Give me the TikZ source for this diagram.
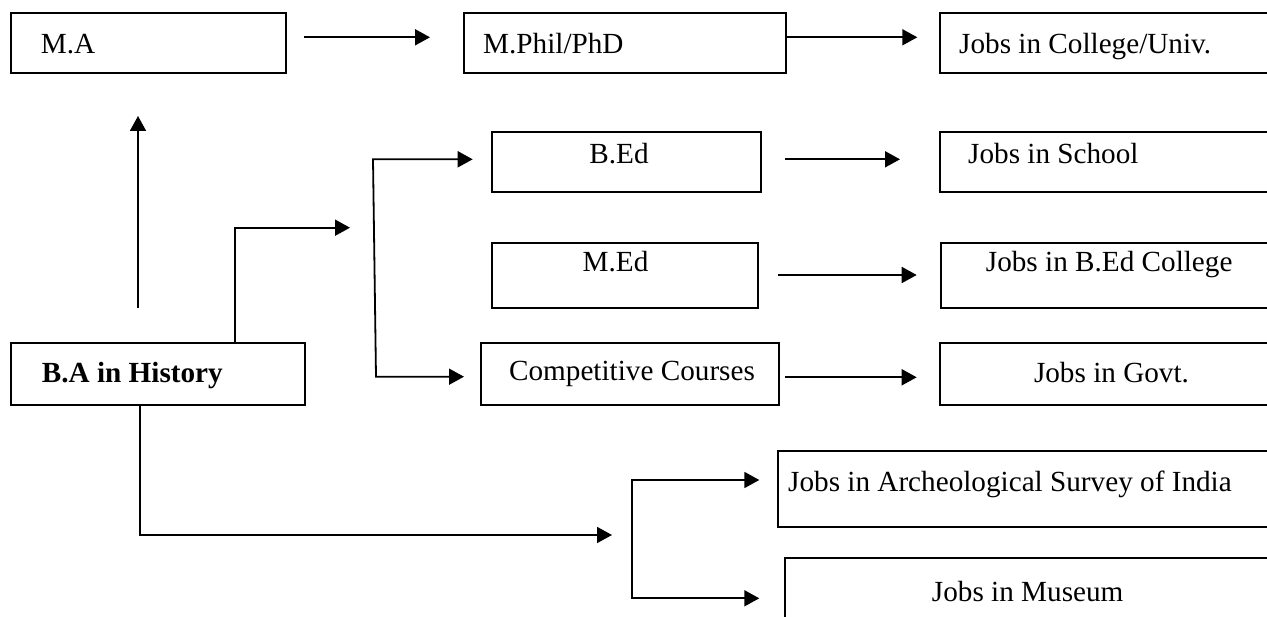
\documentclass[tikz,border=0pt]{standalone}
\usepackage{fontspec}
\setmainfont{Liberation Serif}
\usetikzlibrary{arrows.meta}
\begin{document}
\begin{tikzpicture}[x=1pt,y=-1pt,
  box/.style={draw, line width=2pt, inner sep=0pt, outer sep=0pt, anchor=north west},
  txt/.style={inner sep=0pt, font=\fontsize{29.2}{35}\selectfont},
  arr/.style={line width=1.8pt, -{Triangle[length=15pt,width=16pt]}},
  arrbi/.style={line width=1.8pt, {Triangle[length=15pt,width=16pt]}-{Triangle[length=15pt,width=16pt]}}]
\useasboundingbox (0,0) rectangle (1267,617);
\fill[white] (0,0) rectangle (1267,617);
\clip (0,0) rectangle (1267,617);
% boxes
\node[box, minimum width=275.5pt, minimum height=59.7pt] (ma) at (10.5,13) {};
\node[box, minimum width=321.7pt, minimum height=59.7pt] (mphil) at (464.3,13) {};
\node[box, minimum width=350pt, minimum height=59.7pt] (jcol) at (939.5,13) {};
\node[box, minimum width=269pt, minimum height=60.6pt] (bed) at (491.7,131.7) {};
\node[box, minimum width=350pt, minimum height=60pt] (jschool) at (940,131.7) {};
\node[box, minimum width=266pt, minimum height=64.4pt] (med) at (491.7,243.3) {};
\node[box, minimum width=350pt, minimum height=64.4pt] (jbed) at (940.7,243.3) {};
\node[box, minimum width=298.3pt, minimum height=61.7pt] (comp) at (480.7,343.3) {};
\node[box, minimum width=350pt, minimum height=61.7pt] (jgovt) at (940,343.3) {};
\node[box, minimum width=294.3pt, minimum height=62.3pt] (ba) at (10.7,342.7) {};
\node[box, minimum width=520pt, minimum height=75.7pt] (asi) at (777.7,451) {};
\node[box, minimum width=520pt, minimum height=90pt] (mus) at (785,557.7) {};
% texts
\node[txt, anchor=base west] (tma) at (40.7,54) {M.A};
\node[txt, anchor=base west] (tmphil) at (483,54) {M.Phil/PhD};
\node[txt, anchor=base west] (tjcol) at (959,54) {Jobs in College/Univ.};
\node[txt, anchor=base] (tbed) at (619,164) {B.Ed};
\node[txt, anchor=base west] (tjschool) at (968,163.3) {Jobs in School};
\node[txt, anchor=base] (tmed) at (615.5,271.7) {M.Ed};
\node[txt, anchor=base] (tjbed) at (1109.2,271.7) {Jobs in B.Ed College};
\node[txt, anchor=base] (tcomp) at (632,380.7) {Competitive Courses};
\node[txt, anchor=base] (tjgovt) at (1111.5,382.7) {Jobs in Govt.};
\node[txt, anchor=base west] (tba) at (41.7,383) {\bfseries B.A in History};
\node[txt, anchor=base west] (tasi) at (788,491.7) {Jobs in Archeological Survey of India};
\node[txt, anchor=base] (tmus) at (1027.7,601.7) {Jobs in Museum};
% connector points
\coordinate (c1s) at (304,37.3);
\coordinate (c1e) at (430,37.3);
\coordinate (c2e) at (917.3,37.3);
\coordinate (c3s) at (785,159.3);
\coordinate (c3e) at (900,159.3);
\coordinate (c4s) at (778,275);
\coordinate (c4e) at (916.7,275);
\coordinate (c5s) at (785,377.3);
\coordinate (c5e) at (916.7,377.3);
\coordinate (ups) at (138,308);
\coordinate (upe) at (138,116);
\coordinate (bael) at (235,227.7);
\coordinate (baend) at (350,227.7);
\coordinate (f1a) at (472.7,159.3);
\coordinate (f1t) at (373,159.3);
\coordinate (f1b) at (376,376.7);
\coordinate (f1e) at (464,376.7);
\coordinate (bbel) at (140,535);
\coordinate (bbend) at (612,535);
\coordinate (f2a) at (759.3,480);
\coordinate (f2t) at (632,480);
\coordinate (f2b) at (632,598.3);
\coordinate (f2e) at (759.3,598.3);
% connectors
\draw[arr] (c1s) -- (c1e);
\draw[arr] (mphil.east |- c1s) -- (c2e);
\draw[arr] (c3s) -- (c3e);
\draw[arr] (c4s) -- (c4e);
\draw[arr] (c5s) -- (c5e);
\draw[arr] (ups) -- (upe);
\draw[arr] (ba.north -| bael) -- (bael) -- (baend);
\draw[arrbi] (f1a) -- (f1t) -- (f1b) -- (f1e);
\draw[arr] (ba.south -| bbel) -- (bbel) -- (bbend);
\draw[arrbi] (f2a) -- (f2t) -- (f2b) -- (f2e);
\end{tikzpicture}
\end{document}
